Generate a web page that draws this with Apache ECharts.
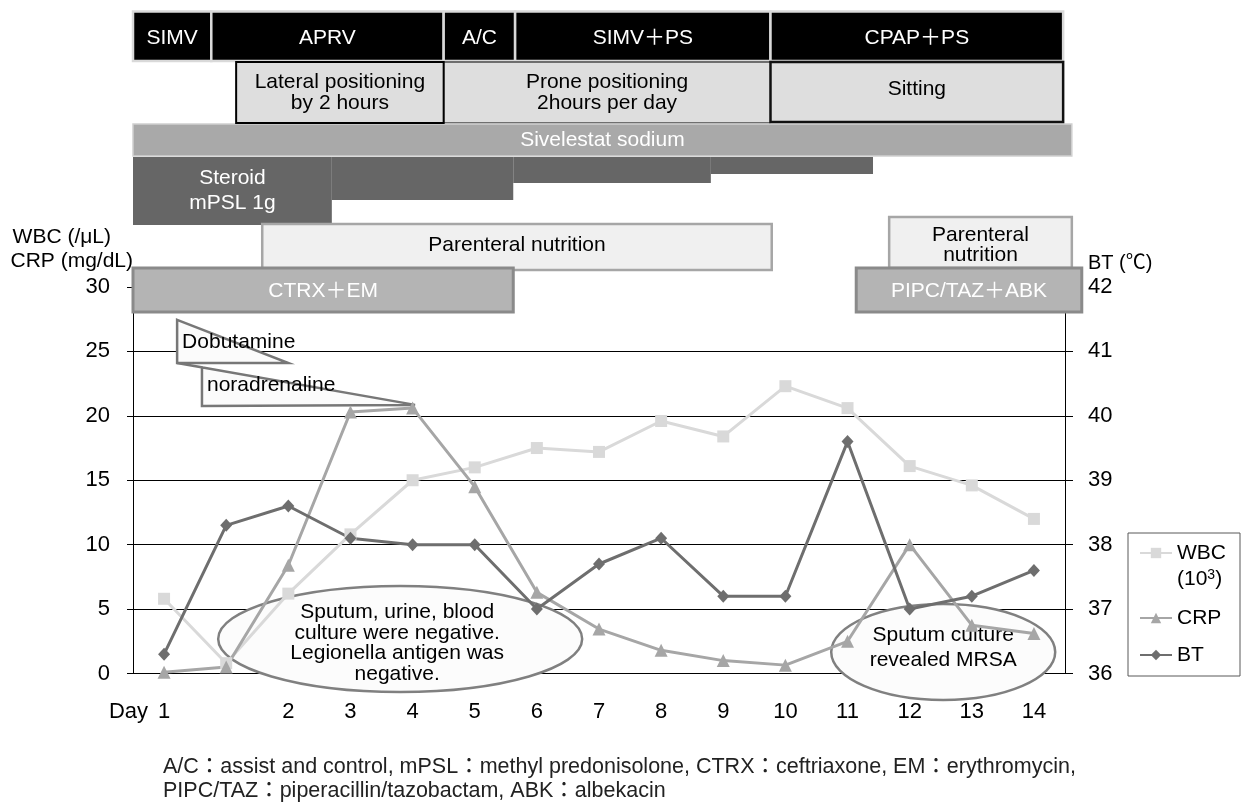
<!DOCTYPE html>
<html><head><meta charset="utf-8">
<script src="https://cdn.jsdelivr.net/npm/echarts@6/dist/echarts.min.js"></script>
<style>html,body{margin:0;padding:0;background:#fff}#c{width:1243px;height:806px}</style>
</head><body><div id="c"></div>
<script>
const FONT = "'Liberation Sans','Noto Sans CJK JP',sans-serif";
// ---- data ----
const days = ['1', '', '2', '3', '4', '5', '6', '7', '8', '9', '10', '11', '12', '13', '14'];
const wbc = [5.8, 0.8, 6.2, 10.8, 15.0, 16.0, 17.5, 17.2, 19.6, 18.4, 22.3, 20.6, 16.1, 14.6, 12.0];
const crp = [0.1, 0.5, 8.4, 20.3, 20.6, 14.5, 6.3, 3.45, 1.8, 1.0, 0.65, 2.5, 10.0, 3.75, 3.1];
const bt = [36.3, 38.3, 38.6, 38.1, 38.0, 38.0, 37.0, 37.7, 38.1, 37.2, 37.2, 39.6, 37.0, 37.2, 37.6];
const leftAxis = { min: 0, max: 30, interval: 5 };
const rightAxis = { min: 36, max: 42, interval: 1 };
// timeline items: [label, start index, end index] (index units of the day axis)
const ventModes = [['SIMV', -0.5, 0.76], ['APRV', 0.76, 4.5], ['A/C', 4.5, 5.65], ['SIMV＋PS', 5.65, 9.76], ['CPAP＋PS', 9.76, 14.47]];
const positioning = [['Lateral positioning\nby 2 hours', 1.16, 4.5], ['Prone positioning\n2hours per day', 4.5, 9.76], ['Sitting', 9.76, 14.47]];
const sivelestat = [['Sivelestat sodium', -0.5, 14.61]];
const steroid = [['Steroid\nmPSL 1g', -0.5, 2.7], ['', 2.7, 5.62], ['', 5.62, 8.8], ['', 8.8, 11.41]];
const nutrition = [['Parenteral nutrition', 1.58, 9.78], ['Parenteral\nnutrition', 11.67, 14.61]];
const antibiotics = [['CTRX＋EM', -0.5, 5.62], ['PIPC/TAZ＋ABK', 11.14, 14.77]];
const footnote = 'A/C：assist and control, mPSL：methyl predonisolone, CTRX：ceftriaxone, EM：erythromycin,\nPIPC/TAZ：piperacillin/tazobactam, ABK：albekacin';

const chart = echarts.init(document.getElementById('c'), null, { renderer: 'canvas' });
const axisText = { color: '#000', fontSize: 22, fontFamily: FONT };
const FS = 21;
chart.setOption({
  animation: false,
  backgroundColor: '#fff',
  textStyle: { fontFamily: FONT },
  grid: { left: 133, right: 178, top: 287, height: 386.5, containLabel: false, outerBoundsMode: 'none' },
  xAxis: {
    type: 'category', data: days, boundaryGap: true,
    axisLine: { lineStyle: { color: '#000', width: 1 } },
    axisTick: { show: false },
    axisLabel: Object.assign({ margin: 27, interval: 0 }, axisText)
  },
  yAxis: [{
    type: 'value', position: 'left', min: leftAxis.min, max: leftAxis.max, interval: leftAxis.interval,
    axisLine: { show: true, lineStyle: { color: '#000', width: 1 } },
    axisTick: { show: true, length: 6, lineStyle: { color: '#000' } },
    axisLabel: Object.assign({ margin: 23 }, axisText),
    splitLine: { show: true, showMaxLine: false, lineStyle: { color: '#000', width: 1 } },
    name: '{a|WBC (/μL)}\n{b|CRP (mg/dL)}', nameLocation: 'end', nameGap: 14,
    nameTextStyle: {
      align: 'right', verticalAlign: 'bottom', color: '#000', fontSize: FS, fontFamily: FONT, lineHeight: 24,
      rich: { a: { fontSize: FS, fontFamily: FONT, color: '#000', lineHeight: 24, padding: [0, 22, 0, 0] },
              b: { fontSize: FS, fontFamily: FONT, color: '#000', lineHeight: 24 } }
    }
  }, {
    type: 'value', position: 'right', min: rightAxis.min, max: rightAxis.max, interval: rightAxis.interval,
    axisLine: { show: true, lineStyle: { color: '#000', width: 1 } },
    axisTick: { show: true, length: 8, lineStyle: { color: '#000' } },
    axisLabel: Object.assign({ margin: 23 }, axisText),
    splitLine: { show: false },
    name: 'BT (℃)', nameLocation: 'end', nameGap: 14,
    nameTextStyle: { align: 'left', verticalAlign: 'bottom', color: '#000', fontSize: 20, fontFamily: FONT, padding: [0, 0, 0, 23] }
  }],
  legend: [{
    data: ['WBC'], orient: 'vertical', left: 1139, top: 542, padding: 0,
    itemWidth: 32, itemHeight: 13, textStyle: { fontSize: FS, fontFamily: FONT, color: '#000', lineHeight: 22 }
  }, {
    data: ['CRP', 'BT'], orient: 'vertical', left: 1139, top: 607, padding: 0, itemGap: 15,
    itemWidth: 32, itemHeight: 13, textStyle: { fontSize: FS, fontFamily: FONT, color: '#000', lineHeight: 22 }
  }],
  series: [{
    name: 'WBC', type: 'line', data: wbc, yAxisIndex: 0, z: 3,
    symbol: 'rect', symbolSize: 12, color: '#d9d9d9',
    lineStyle: { width: 3, color: '#d9d9d9' }, itemStyle: { color: '#d9d9d9' }
  }, {
    name: 'CRP', type: 'line', data: crp, yAxisIndex: 0, z: 3,
    symbol: 'triangle', symbolSize: 13, color: '#a6a6a6',
    lineStyle: { width: 3, color: '#a6a6a6' }, itemStyle: { color: '#a6a6a6' }
  }, {
    name: 'BT', type: 'line', data: bt, yAxisIndex: 1, z: 3,
    symbol: 'diamond', symbolSize: [12, 13], color: '#6e6e6e',
    lineStyle: { width: 3, color: '#6e6e6e' }, itemStyle: { color: '#6e6e6e' }
  }]
});

// ---- annotations positioned through the chart's own scales ----
const p0 = chart.convertToPixel({ xAxisIndex: 0 }, 0);
const p1 = chart.convertToPixel({ xAxisIndex: 0 }, 1);
const step = p1 - p0;
const X = i => p0 + i * step;
const YL = v => chart.convertToPixel({ yAxisIndex: 0 }, v);
const g = [];
function box(list, y0, y1, fill, stroke, lw, z) {
  list.forEach((it, k) => {
    const x0 = X(it[1]), x1 = X(it[2]);
    const yb = Array.isArray(y1) ? y1[k] : y1;
    g.push({ type: 'rect', z: z, shape: { x: x0, y: y0, width: x1 - x0, height: yb - y0 },
      style: { fill: fill, stroke: stroke, lineWidth: lw } });
  });
}
function label(text, x, y, color, size, lh, z, align) {
  g.push({ type: 'text', z: z || 10, x: x, y: y,
    style: { text: text, fill: color, font: size + 'px ' + FONT, align: align || 'center', verticalAlign: 'middle', lineHeight: lh || 21 } });
}
const mid = it => (X(it[1]) + X(it[2])) / 2;
// ventilator mode row
box(ventModes, 11.5, 61, '#000', '#d9d9d9', 2.5, 5);
ventModes.forEach(it => label(it[0], mid(it), 38, '#fff', FS));
// positioning row
box([positioning[1]], 62, 123, '#dedede', '#000', 1, 5);
box([positioning[0]], 62, 123, '#dedede', '#000', 2, 6);
box([positioning[2]], 62, 122, '#dedede', '#111', 2.5, 6);
positioning.forEach(it => label(it[0], mid(it), it[0].indexOf('\n') >= 0 ? 93 : 89, '#000', FS, 21));
// sivelestat
box(sivelestat, 124, 156, '#a9a9a9', '#d0d0d0', 1.5, 5);
label(sivelestat[0][0], mid(sivelestat[0]), 140, '#fff', FS);
// steroid taper
box(steroid, 157, [225, 200, 183, 174], '#666666', null, 0, 5);
label(steroid[0][0], mid(steroid[0]), 190.5, '#fff', FS, 25);
// parenteral nutrition
box([nutrition[0]], 224, 270, '#f0f0f0', '#a6a6a6', 2.5, 5);
box([nutrition[1]], 217, 268, '#f0f0f0', '#a6a6a6', 2.5, 5);
label(nutrition[0][0], mid(nutrition[0]), 245, '#000', FS);
label(nutrition[1][0], mid(nutrition[1]), 245, '#000', FS, 20);
// antibiotics
box(antibiotics, 268, 312, '#b4b4b4', '#8a8a8a', 3, 7);
antibiotics.forEach(it => label(it[0], mid(it), 291, '#fff', FS, 21, 11));
// catecholamine wedges (inside plot, in axis units)
g.push({ type: 'polygon', z: 1, shape: { points: [[X(0.21), YL(27.45)], [X(2.0), YL(24.1)], [X(0.21), YL(24.1)]] },
  style: { fill: '#fbfbfb', stroke: '#777', lineWidth: 2.5, lineJoin: 'miter' } });
g.push({ type: 'polygon', z: 1, shape: { points: [[X(0.21), YL(24.1)], [X(4.04), YL(20.85)], [X(0.61), YL(20.77)], [X(0.61), YL(23.77)]] },
  style: { fill: '#fbfbfb', stroke: '#777', lineWidth: 2.5, lineJoin: 'miter' } });
label('Dobutamine', X(0.21) + 5, YL(25.75), '#000', FS, 21, 2, 'left');
label('noradrenaline', X(0.61) + 5, YL(22.4), '#000', FS, 21, 2, 'left');
// ellipses
g.push({ type: 'ellipse', z: 1, shape: { cx: X(3.8), cy: YL(2.68), rx: 182, ry: 53 }, style: { fill: '#fcfcfc', stroke: '#808080', lineWidth: 2.5 } });
label('Sputum, urine, blood\nculture were negative.\nLegionella antigen was\nnegative.', X(3.8) - 3, YL(2.35), '#000', FS, 20.7, 2);
g.push({ type: 'ellipse', z: 1, shape: { cx: X(12.54), cy: YL(1.67), rx: 112, ry: 48 }, style: { fill: '#fcfcfc', stroke: '#808080', lineWidth: 2.5 } });
label('Sputum culture\nrevealed MRSA', X(12.54), YL(2.0), '#000', FS, 25, 2);
// x-axis "Day" prefix
label('Day', X(0) - 16, 712, '#000', 22, 21, 2, 'right');
// legend frame and unit line
g.push({ type: 'rect', z: 0, shape: { x: 1128, y: 533, width: 112, height: 143 }, style: { fill: '#fff', stroke: '#595959', lineWidth: 1 } });
g.push({ type: 'text', z: 10, x: 1177, y: 579, style: { rich: { s: { fontSize: 14, fontFamily: FONT, fill: '#000', verticalAlign: 'top', padding: [0, 0, 8, 0] }, n: { fontSize: FS, fontFamily: FONT, fill: '#000' } }, text: '{n|(10}{s|3}{n|)}', align: 'left', verticalAlign: 'middle' } });
// footnote
g.push({ type: 'text', z: 10, x: 163, y: 779, style: { text: footnote, font: '21.5px ' + FONT, fill: '#222', align: 'left', verticalAlign: 'middle', lineHeight: 24 } });
chart.setOption({ graphic: g });
</script></body></html>
